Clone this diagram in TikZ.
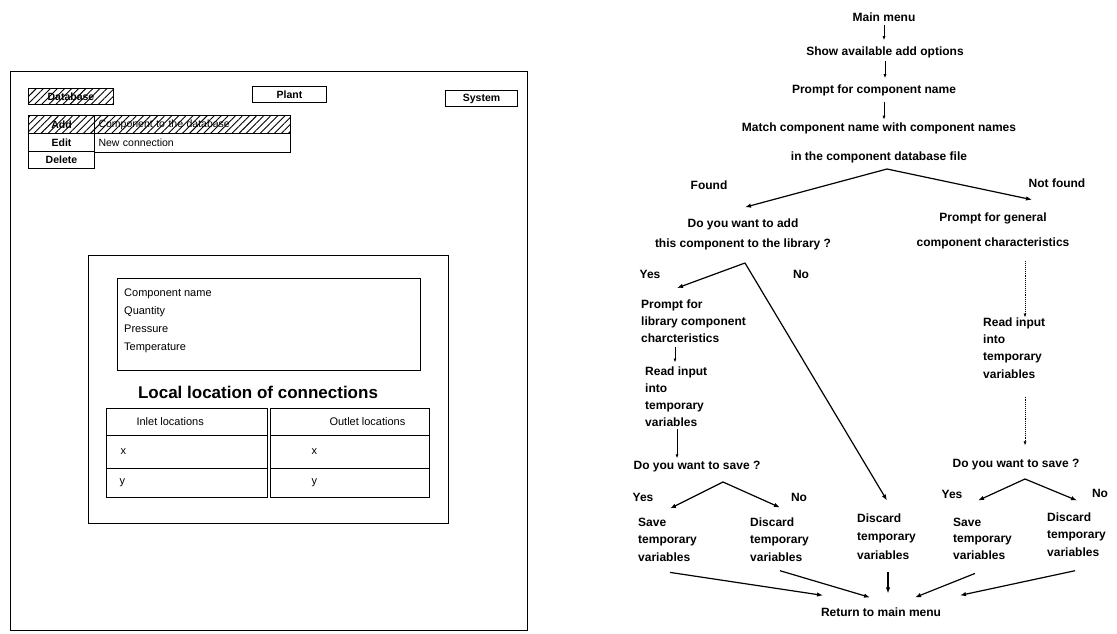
\documentclass[tikz,border=0pt]{standalone}
\usepackage{fontspec}
\setmainfont{Liberation Sans}
\usetikzlibrary{arrows.meta,patterns.meta,positioning}

\newcommand\flowfont{\fontsize{12}{17.5}\selectfont\bfseries}
\newcommand\scrfont{\fontsize{10.5}{18}\selectfont}
\newcommand\panelfont{\fontsize{11}{18}\selectfont}

\tikzset{
  box/.style={draw, line width=1pt, inner sep=0pt},
  hatch/.style={pattern={Lines[angle=45,distance=5pt,line width=0.9pt]}},
  btn/.style={box, anchor=north west, font=\scrfont\bfseries},
  flow/.style={font=\flowfont, inner sep=0pt},
  flowl/.style={flow, align=left, anchor=north west},
  arr/.style={-{Latex[length=6pt,width=4.5pt]}, line width=1.2pt},
  tick/.style={-{Latex[length=4pt,width=3pt]}, line width=0.9pt},
  dotarr/.style={tick, densely dotted, line width=0.7pt},
}

\begin{document}
\begin{tikzpicture}[x=1pt,y=-1pt]
  \useasboundingbox (0,0) rectangle (1117,634);

  % screen layout
  \node[box, line width=1.3pt, anchor=north west, minimum width=517pt, minimum height=559pt] (screen) at (10,71) {};
  \node[btn, hatch, minimum width=85pt, minimum height=16pt] (dbase) at (28,88) {Database};
  \node[btn, minimum width=74pt, minimum height=16pt] (plant) at (252,86) {Plant};
  \node[btn, minimum width=72pt, minimum height=16pt] (system) at (445,90) {System};

  \node[btn, hatch, minimum width=66pt, minimum height=18pt] (add) at (28,115) {Add};
  \node[btn, minimum width=66pt, minimum height=18pt] (edit) at (28,133) {Edit};
  \node[btn, minimum width=66pt, minimum height=17pt] (delete) at (28,151) {Delete};
  \node[box, hatch, anchor=north west, font=\scrfont, inner xsep=4pt, text width=188pt, align=left, minimum height=18pt] (todb) at (94,115) {Component to the database};
  \node[box, anchor=north west, font=\scrfont, inner xsep=4pt, text width=188pt, align=left, minimum height=19pt] (newcon) at (94,133) {New connection};

  \node[box, anchor=north west, minimum width=360pt, minimum height=268pt] (panel) at (88,255) {};
  \node[box, anchor=north west, minimum width=303pt, minimum height=92pt] (fields) at (117,278) {};
  \node[anchor=north west, font=\panelfont, align=left, inner sep=0pt] (flist) at (124,289) {Component name\\Quantity\\Pressure\\Temperature};
  \node[font=\fontsize{17}{20}\selectfont\bfseries] (title) at (258,392) {Local location of connections};

  \node[box, anchor=north west, minimum width=161pt, minimum height=27pt] (inhead) at (106,408) {};
  \node[box, anchor=north west, minimum width=159pt, minimum height=27pt] (outhead) at (270,408) {};
  \node[box, anchor=north west, minimum width=161pt, minimum height=33pt] (inx) at (106,435) {};
  \node[box, anchor=north west, minimum width=159pt, minimum height=33pt] (outx) at (270,435) {};
  \node[box, anchor=north west, minimum width=161pt, minimum height=29pt] (iny) at (106,468) {};
  \node[box, anchor=north west, minimum width=159pt, minimum height=29pt] (outy) at (270,468) {};
  \node[anchor=west, font=\panelfont] at ([xshift=27pt]inhead.west) {Inlet locations};
  \node[anchor=west, font=\panelfont] at ([xshift=56pt]outhead.west) {Outlet locations};
  \node[anchor=west, font=\panelfont] at ([xshift=11pt]inx.west) {x};
  \node[anchor=west, font=\panelfont] at ([xshift=38pt]outx.west) {x};
  \node[anchor=west, font=\panelfont] at ([xshift=10pt]iny.west) {y};
  \node[anchor=west, font=\panelfont] at ([xshift=38pt]outy.west) {y};

  % add component flow
  \node[flow] (mainmenu) at (884,17) {Main menu};
  \node[flow] (showadd) at (885,52) {Show available add options};
  \node[flow] (askname) at (874,90) {Prompt for component name};
  \node[flow, align=center] (match) at (879,143) {Match component name with component names\\[11.5pt]in the component database file};

  \draw[tick, shorten <=3pt, shorten >=6pt] (mainmenu.south) -- (mainmenu.south |- showadd.north);
  \draw[tick, shorten <=3pt, shorten >=6pt] (showadd.south) -- (showadd.south |- askname.north);
  \draw[tick, shorten <=6pt, shorten >=3pt] (mainmenu.south |- askname.south) -- (mainmenu.south |- match.north);

  \coordinate (split) at (887,169);
  \node[flow] (found) at (709,185) {Found};
  \node[flow] (notfound) at (1057,183) {Not found};
  \node[flow, align=center, font=\fontsize{12}{20}\selectfont\bfseries] (addq) at (743,234) {Do you want to add\\this component to the library ?};
  \node[flow, align=center, font=\fontsize{12}{25}\selectfont\bfseries] (general) at (993,231) {Prompt for general\\component characteristics};
  \draw[arr] (split) -- ([shift={(2pt,11pt)}]addq.north);
  \draw[arr] (split) -- ([shift={(39pt,13pt)}]general.north);

  % found branch
  \coordinate (yesno) at (745,263);
  \node[flow] (yes1) at (650,274) {Yes};
  \node[flow] (no1) at (801,274) {No};
  \node[flowl, font=\fontsize{12}{17}\selectfont\bfseries] (libprompt) at (641,300) {Prompt for\\library component\\charcteristics};
  \node[flowl, font=\fontsize{12}{17}\selectfont\bfseries] (readl) at (645,366.5) {Read input\\into\\temporary\\variables};
  \node[flow] (saveq) at (697,467) {Do you want to save ?};
  \draw[arr] (yesno) -- ([shift={(36pt,12pt)}]libprompt.north west);
  \draw[tick, shorten <=4pt, shorten >=4pt] ([xshift=34pt]libprompt.south west) -- ([xshift=30pt]readl.north west);
  \draw[tick, shorten <=2pt, shorten >=3pt] ([xshift=32pt]readl.south west) -- ([xshift=32pt]readl.south west |- saveq.north);

  \coordinate (lsplit) at (723,482);
  \node[flow] (yes2) at (643,497) {Yes};
  \node[flow] (no2) at (799,497) {No};
  \node[flowl] (savel) at (638,517.5) {Save\\temporary\\variables};
  \node[flowl] (discl) at (750,517.5) {Discard\\temporary\\variables};
  \node[flowl, font=\fontsize{12}{18.5}\selectfont\bfseries] (discm) at (857,513.5) {Discard\\temporary\\variables};
  \draw[arr] (lsplit) -- ([shift={(32pt,9pt)}]savel.north west);
  \draw[arr] (lsplit) -- ([shift={(30pt,10pt)}]discl.north west);
  \draw[arr] (yesno) -- ([shift={(30pt,13pt)}]discm.north west);

  % not found branch
  \node[flowl, font=\fontsize{12}{17.3}\selectfont\bfseries] (readr) at (983,317.5) {Read input\\into\\temporary\\variables};
  \node[flow] (saveqr) at (1016,465) {Do you want to save ?};
  \draw[dotarr, shorten <=12pt] ([xshift=42pt]readr.north west |- general.south) -- ([xshift=42pt]readr.north west);
  \draw[dotarr, shorten <=18pt, shorten >=14pt] ([xshift=42pt]readr.south west) -- ([xshift=42pt]readr.south west |- saveqr.north);

  \coordinate (rsplit) at (1025,479);
  \node[flow] (yes3) at (952,494) {Yes};
  \node[flow] (no3) at (1100,493) {No};
  \node[flowl, font=\fontsize{12}{16.5}\selectfont\bfseries] (saver) at (953,517.5) {Save\\temporary\\variables};
  \node[flowl, font=\fontsize{12}{17.5}\selectfont\bfseries] (discr) at (1047,512.5) {Discard\\temporary\\variables};
  \draw[arr] (rsplit) -- ([shift={(25pt,17pt)}]saver.north west);
  \draw[arr] (rsplit) -- ([shift={(30pt,12pt)}]discr.north west);

  % back to the menu
  \node[flow] (back) at (881,612) {Return to main menu};
  \draw[arr] ([shift={(32pt,-11pt)}]savel.south west) -- ([shift={(-58pt,12pt)}]back.north);
  \draw[arr] ([shift={(30pt,-9pt)}]discl.south west) -- ([shift={(-11pt,10pt)}]back.north);
  \draw[arr] ([shift={(31pt,-12pt)}]discm.south west) -- ([shift={(7pt,14pt)}]back.north);
  \draw[arr] ([shift={(22pt,-14pt)}]saver.south west) -- ([shift={(34pt,10pt)}]back.north);
  \draw[arr] ([shift={(28pt,-14pt)}]discr.south west) -- ([shift={(79pt,12pt)}]back.north);
\end{tikzpicture}
\end{document}
